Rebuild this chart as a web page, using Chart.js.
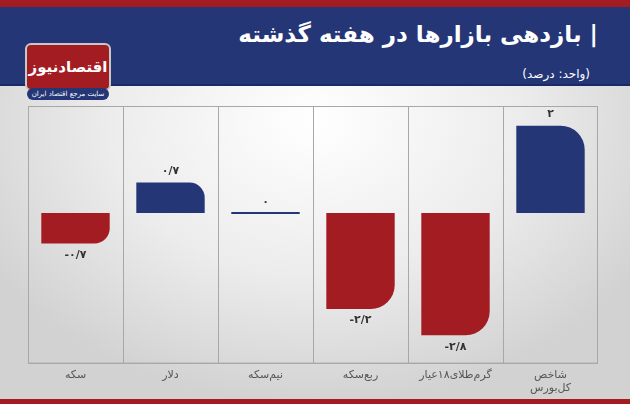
<!DOCTYPE html>
<html><head><meta charset="utf-8">
<script src="https://cdn.jsdelivr.net/npm/chart.js@4"></script>
<style>
html,body{margin:0;padding:0;}
body{width:630px;height:404px;position:relative;overflow:hidden;font-family:"DejaVu Sans",sans-serif;
background:radial-gradient(ellipse 60% 70% at 50% 30%,#ffffff 0%,#ececec 55%,#d2d2d2 100%);}
#top{position:absolute;left:0;top:0;width:630px;height:7px;background:#a31c22;}
#head{position:absolute;left:0;top:7px;width:630px;height:77px;background:#253677;border-bottom:2px solid #1a2a66;}
#title{position:absolute;right:32px;top:14px;color:#fff;font-size:23px;font-weight:bold;direction:rtl;}
#unit{position:absolute;right:40px;top:60px;color:#fff;font-size:12px;direction:rtl;}
#logo{position:absolute;left:25px;top:43px;width:82px;height:44px;background:#a31c22;border:2px solid #c8c8c8;border-radius:6px;color:#fff;font-size:15px;font-weight:bold;text-align:center;line-height:44px;direction:rtl;}
#tag{position:absolute;left:27px;top:88px;width:82px;height:12px;background:#253677;border-radius:6px;color:#fff;font-size:7px;text-align:center;line-height:12px;direction:rtl;}
#bot{position:absolute;left:0;top:399px;width:630px;height:5px;background:#a31c22;}
#wrap{position:absolute;left:28px;top:106px;width:570px;height:294px;}
</style></head><body>
<div id="top"></div><div id="head"><div id="title">| بازدهی بازارها در هفته گذشته</div><div id="unit">(واحد: درصد)</div></div>
<div id="logo">اقتصادنیوز</div><div id="tag">سایت مرجع اقتصاد ایران</div>
<div id="wrap"><canvas id="c"></canvas></div>
<div id="bot"></div>
<script>
const categories=["سکه","دلار","نیم‌سکه","ربع‌سکه","گرم‌طلای۱۸عیار",["شاخص","کل‌بورس"]];
const values=[-0.7,0.7,0,-2.2,-2.8,2];
const valueLabels=["-۰/۷","۰/۷","۰","-۲/۲","-۲/۸","۲"];
const RED="#a31c22",BLUE="#253677";
const labelPlugin={id:"lbl",afterDatasetsDraw(ch){
 const ctx=ch.ctx,meta=ch.getDatasetMeta(0),a=ch.chartArea;
 ctx.save();
 ctx.strokeStyle="#a8a8a8";ctx.lineWidth=1;ctx.strokeRect(a.left+0.5,a.top+0.5,a.width-1,a.height-1);
 ctx.fillStyle="#333";ctx.font="bold 11px 'DejaVu Sans'";ctx.textAlign="center";
 meta.data.forEach((b,i)=>{const v=values[i];
  if(v>=0){ctx.textBaseline="bottom";ctx.fillText(valueLabels[i],b.x,b.y-6);}
  else{ctx.textBaseline="top";ctx.fillText(valueLabels[i],b.x,b.y+6);}});
 ctx.restore();}};
new Chart(document.getElementById("c"),{type:"bar",
 data:{labels:categories,datasets:[{data:values,
  backgroundColor:values.map(v=>v>=0?BLUE:RED),
  borderRadius:values.map(v=>v>0?{topRight:24}:(v<0?{bottomRight:24}:0)),
  borderSkipped:false,minBarLength:2,barPercentage:0.72,categoryPercentage:1}]},
 options:{responsive:true,maintainAspectRatio:false,animation:false,
  plugins:{legend:{display:false},tooltip:{enabled:false}},
  layout:{padding:0},
  scales:{y:{display:false,min:-3.45,max:2.45},
   x:{grid:{offset:true,color:"#a8a8a8",drawTicks:false},border:{color:"#a8a8a8"},
    ticks:{color:"#555",font:{family:"DejaVu Sans",size:11},padding:5}}}},
 plugins:[labelPlugin]});
</script></body></html>
